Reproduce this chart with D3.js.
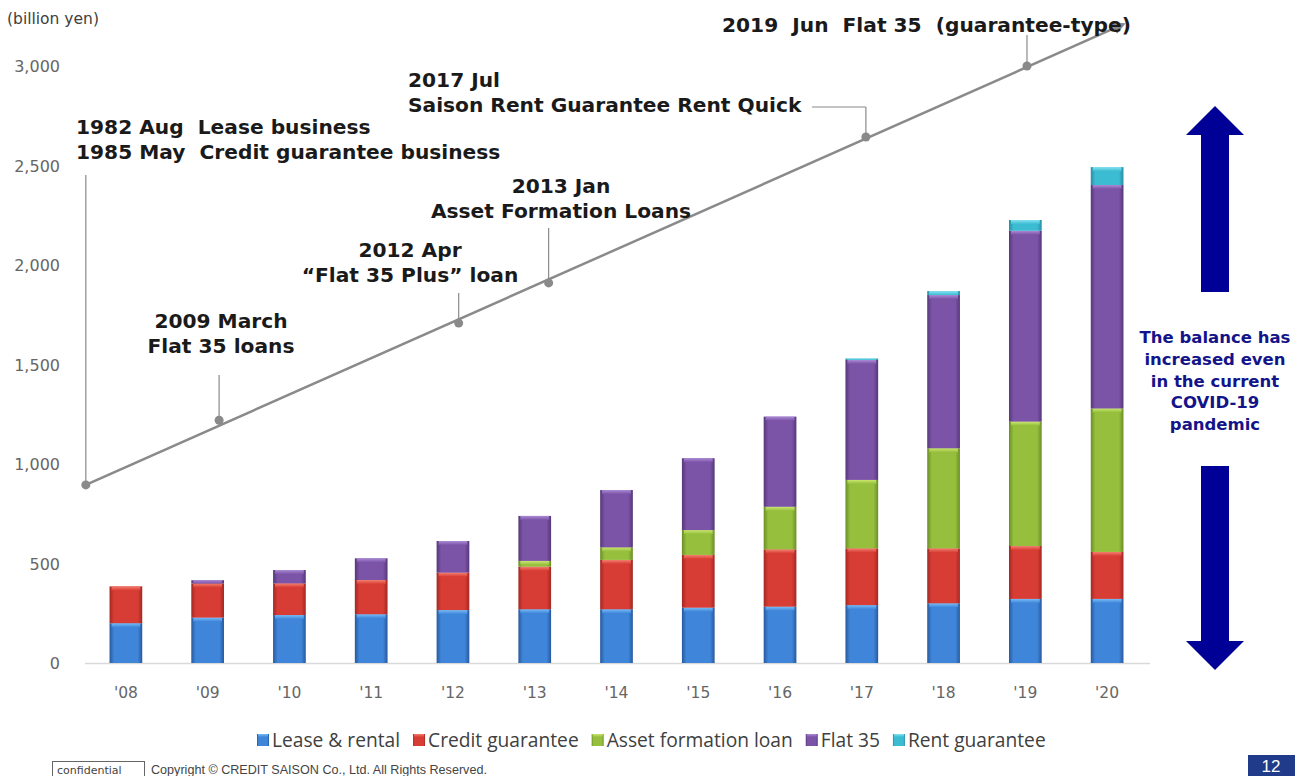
<!DOCTYPE html>
<html>
<head>
<meta charset="utf-8">
<script src="https://cdn.jsdelivr.net/npm/d3@7"></script>
<style>
  body { margin: 0; background: #fff; }
  svg { display: block; }
</style>
</head>
<body>
<script>
// chart values (billion yen)
var years  = ["'08", "'09", "'10", "'11", "'12", "'13", "'14", "'15", "'16", "'17", "'18", "'19", "'20"];
var lease  = [200, 228, 241, 245, 266, 270, 270, 278, 283, 291, 300, 322, 322];
var credit = [185, 172, 159, 172, 188, 214, 248, 265, 288, 285, 276, 266, 236];
var asset  = [0, 0, 0, 0, 0, 29, 63, 125, 214, 344, 503, 625, 721];
var flat35 = [0, 16, 67, 109, 159, 226, 288, 361, 453, 603, 770, 959, 1123];
var rent   = [0, 0, 0, 0, 0, 0, 0, 0, 0, 7, 20, 54, 90];

var seriesNames = ["Lease & rental", "Credit guarantee", "Asset formation loan", "Flat 35", "Rent guarantee"];
var yTicks = [0, 500, 1000, 1500, 2000, 2500, 3000];

// timeline milestones: position in category units, level on the value axis
var milestonePos = [-0.49, 1.14, 4.07, 5.17, 9.05, 11.02];
var milestoneVal = [895, 1220, 1708, 1910, 2643, 3000];
var timelineEnd  = {pos: 12.2, val: 3210};

// set the dimensions of the graph
var W = 1295, H = 776;
var svg = d3.select("body").append("svg")
    .attr("width", W)
    .attr("height", H);

var x = d3.scaleBand()
    .domain(years)
    .range([85, 1148])
    .paddingInner(0.6)
    .paddingOuter(0.3);

var y = d3.scaleLinear()
    .domain([0, 3000])
    .range([663, 66]);

// position helper for fractional category units
function px(p) { return x.range()[0] + x.step() * (p + 0.5); }

// colors: base / light / dark for the bevelled look
var palette = [
  {base: "#3f86da", light: "#78bcf6", dark: "#27599e"},
  {base: "#d83d35", light: "#f3806f", dark: "#a32823"},
  {base: "#95bf3d", light: "#cbe66f", dark: "#6b8e26"},
  {base: "#7b53a7", light: "#ab8bd6", dark: "#553879"},
  {base: "#3cbcd3", light: "#86e3f1", dark: "#288ea3"}
];

var defs = svg.append("defs");
palette.forEach(function(c, i) {
  var g = defs.append("linearGradient").attr("id", "side" + i)
      .attr("x1", "0").attr("x2", "1").attr("y1", "0").attr("y2", "0");
  g.append("stop").attr("offset", "0").attr("stop-color", c.dark);
  g.append("stop").attr("offset", "0.14").attr("stop-color", c.base);
  g.append("stop").attr("offset", "0.86").attr("stop-color", c.base);
  g.append("stop").attr("offset", "1").attr("stop-color", c.dark);
  var t = defs.append("linearGradient").attr("id", "top" + i)
      .attr("x1", "0").attr("x2", "0").attr("y1", "0").attr("y2", "1");
  t.append("stop").attr("offset", "0").attr("stop-color", c.light);
  t.append("stop").attr("offset", "1").attr("stop-color", c.base);
});

// arrow head for the timeline
defs.append("marker")
    .attr("id", "tl-head")
    .attr("viewBox", "0 0 10 10")
    .attr("refX", 8).attr("refY", 5)
    .attr("markerWidth", 5).attr("markerHeight", 5)
    .attr("orient", "auto")
  .append("path")
    .attr("d", "M0,0 L10,5 L0,10 z")
    .attr("fill", "#8a8a8a");

// y axis labels
svg.append("text")
    .attr("x", 7).attr("y", 24)
    .attr("font-family", "DejaVu Sans, sans-serif")
    .attr("font-size", 15.5)
    .attr("fill", "#404040")
    .text("(billion yen)");

svg.append("g")
    .selectAll("text")
    .data(yTicks)
    .enter().append("text")
      .attr("x", 60)
      .attr("y", function(d) { return y(d) + 6; })
      .attr("text-anchor", "end")
      .attr("font-family", "DejaVu Sans, sans-serif")
      .attr("font-size", 16)
      .attr("fill", "#666")
      .text(d3.format(","));

// x axis baseline + labels
svg.append("line")
    .attr("x1", x.range()[0]).attr("x2", x.range()[1] + 2)
    .attr("y1", y(0) + 0.5).attr("y2", y(0) + 0.5)
    .attr("stroke", "#d9d9d9").attr("stroke-width", 1.5);

svg.append("g")
    .selectAll("text")
    .data(years)
    .enter().append("text")
      .attr("x", function(d) { return x(d) + x.bandwidth() / 2; })
      .attr("y", 698)
      .attr("text-anchor", "middle")
      .attr("font-family", "DejaVu Sans, sans-serif")
      .attr("font-size", 15.5)
      .attr("fill", "#666")
      .text(function(d) { return d; });

// stack data
var rows = years.map(function(yr, i) {
  return {year: yr, s0: lease[i], s1: credit[i], s2: asset[i], s3: flat35[i], s4: rent[i]};
});
var keys = ["s0", "s1", "s2", "s3", "s4"];
var stacked = d3.stack().keys(keys)(rows);

var layers = svg.append("g")
    .selectAll("g")
    .data(stacked)
    .enter().append("g");

var segs = layers.selectAll("g")
    .data(function(d, i) {
      return d.filter(function(s) { return s[1] - s[0] > 0; })
              .map(function(s) { return {s: s, k: i}; });
    })
    .enter().append("g");

segs.append("rect")
    .attr("x", function(d) { return x(d.s.data.year); })
    .attr("y", function(d) { return y(d.s[1]); })
    .attr("width", x.bandwidth())
    .attr("height", function(d) { return y(d.s[0]) - y(d.s[1]); })
    .attr("fill", function(d) { return "url(#side" + d.k + ")"; });

// bevel highlight at the top of each segment
segs.append("rect")
    .attr("x", function(d) { return x(d.s.data.year) + 2; })
    .attr("y", function(d) { return y(d.s[1]); })
    .attr("width", x.bandwidth() - 4)
    .attr("height", function(d) { return Math.min(4, y(d.s[0]) - y(d.s[1])); })
    .attr("fill", function(d) { return "url(#top" + d.k + ")"; });

// timeline
var tl = svg.append("g");
tl.append("line")
    .attr("x1", px(milestonePos[0])).attr("y1", y(milestoneVal[0]))
    .attr("x2", px(timelineEnd.pos)).attr("y2", y(timelineEnd.val))
    .attr("stroke", "#8a8a8a").attr("stroke-width", 2.5)
    .attr("marker-end", "url(#tl-head)");

// leader lines (top level on value axis)
var leaderTop = [2452, 1447, 1859, 2186, 2794, 3156];
tl.selectAll(".leader")
    .data(milestonePos)
    .enter().append("line")
      .attr("class", "leader")
      .attr("x1", function(d) { return px(d); })
      .attr("x2", function(d) { return px(d); })
      .attr("y1", function(d, i) { return y(milestoneVal[i]); })
      .attr("y2", function(d, i) { return y(leaderTop[i]); })
      .attr("stroke", "#8a8a8a").attr("stroke-width", 1.2);

// 2017 leader elbow
tl.append("line")
    .attr("x1", px(milestonePos[4])).attr("x2", px(8.39))
    .attr("y1", y(leaderTop[4])).attr("y2", y(leaderTop[4]))
    .attr("stroke", "#8a8a8a").attr("stroke-width", 1.2);

tl.selectAll("circle")
    .data(milestonePos)
    .enter().append("circle")
      .attr("cx", function(d) { return px(d); })
      .attr("cy", function(d, i) { return y(milestoneVal[i]); })
      .attr("r", 4.5)
      .attr("fill", "#8a8a8a");

// milestone texts
var notes = [
  {lines: ["1982 Aug  Lease business", "1985 May  Credit guarantee business"], x: 76, y: 134, anchor: "start"},
  {lines: ["2009 March", "Flat 35 loans"], x: 221, y: 328, anchor: "middle"},
  {lines: ["2012 Apr", "\u201cFlat 35 Plus\u201d loan"], x: 410, y: 257, anchor: "middle"},
  {lines: ["2013 Jan", "Asset Formation Loans"], x: 561, y: 193, anchor: "middle"},
  {lines: ["2017 Jul", "Saison Rent Guarantee Rent Quick"], x: 408, y: 87, anchor: "start"},
  {lines: ["2019  Jun  Flat 35  (guarantee-type)"], x: 722, y: 32, anchor: "start"}
];
notes.forEach(function(n) {
  var t = svg.append("text")
      .attr("x", n.x).attr("y", n.y)
      .attr("text-anchor", n.anchor)
      .attr("font-family", "DejaVu Sans, Verdana, sans-serif")
      .attr("font-weight", "bold")
      .attr("font-size", 20.2)
      .attr("fill", "#1a1a1a")
      .style("white-space", "pre");
  n.lines.forEach(function(l, i) {
    t.append("tspan").attr("x", n.x).attr("dy", i === 0 ? 0 : 24.5).text(l);
  });
});

// right side arrows
var navy = "#000096";
svg.append("path")
    .attr("d", "M1215,106 L1244,135 L1229,135 L1229,292 L1201,292 L1201,135 L1186,135 Z")
    .attr("fill", navy);
svg.append("path")
    .attr("d", "M1215,670 L1244,641 L1229,641 L1229,466 L1201,466 L1201,641 L1186,641 Z")
    .attr("fill", navy);

var covid = ["The balance has", "increased even", "in the current", "COVID-19", "pandemic"];
svg.append("text")
    .attr("text-anchor", "middle")
    .attr("font-family", "DejaVu Sans, Verdana, sans-serif")
    .attr("font-weight", "bold")
    .attr("font-size", 16.5)
    .attr("fill", "#14148a")
    .selectAll("tspan")
    .data(covid)
    .enter().append("tspan")
      .attr("x", 1215)
      .attr("y", function(d, i) { return 343 + i * 21.8; })
      .text(function(d) { return d; });

// legend
var legend = svg.append("g");
var lx = 257;
seriesNames.forEach(function(name, i) {
  var g = legend.append("g");
  g.append("rect")
      .attr("x", lx).attr("y", 734)
      .attr("width", 12).attr("height", 12)
      .attr("fill", "url(#side" + i + ")");
  g.append("rect")
      .attr("x", lx + 1).attr("y", 734)
      .attr("width", 10).attr("height", 3)
      .attr("fill", "url(#top" + i + ")");
  var t = g.append("text")
      .attr("x", lx + 15).attr("y", 747)
      .attr("font-family", "Open Sans, sans-serif")
      .attr("font-size", 19.2)
      .attr("fill", "#404040")
      .text(name);
  lx += 15 + t.node().getComputedTextLength() + 13;
});

// footer
svg.append("rect")
    .attr("x", 52.5).attr("y", 761.5)
    .attr("width", 92).attr("height", 18)
    .attr("fill", "none").attr("stroke", "#666").attr("stroke-width", 1);
svg.append("text")
    .attr("x", 57).attr("y", 774)
    .attr("font-family", "DejaVu Sans, sans-serif")
    .attr("font-size", 11)
    .attr("fill", "#444")
    .text("confidential");
svg.append("text")
    .attr("x", 151).attr("y", 774)
    .attr("font-family", "Liberation Sans, sans-serif")
    .attr("font-size", 12.6)
    .attr("fill", "#444")
    .text("Copyright \u00a9 CREDIT SAISON Co., Ltd. All Rights Reserved.");

svg.append("rect")
    .attr("x", 1248).attr("y", 755)
    .attr("width", 47).attr("height", 21)
    .attr("fill", "#1f3b8a");
svg.append("text")
    .attr("x", 1271).attr("y", 772)
    .attr("text-anchor", "middle")
    .attr("font-family", "Liberation Sans, sans-serif")
    .attr("font-size", 17)
    .attr("fill", "#fff")
    .text("12");
</script>
</body>
</html>
